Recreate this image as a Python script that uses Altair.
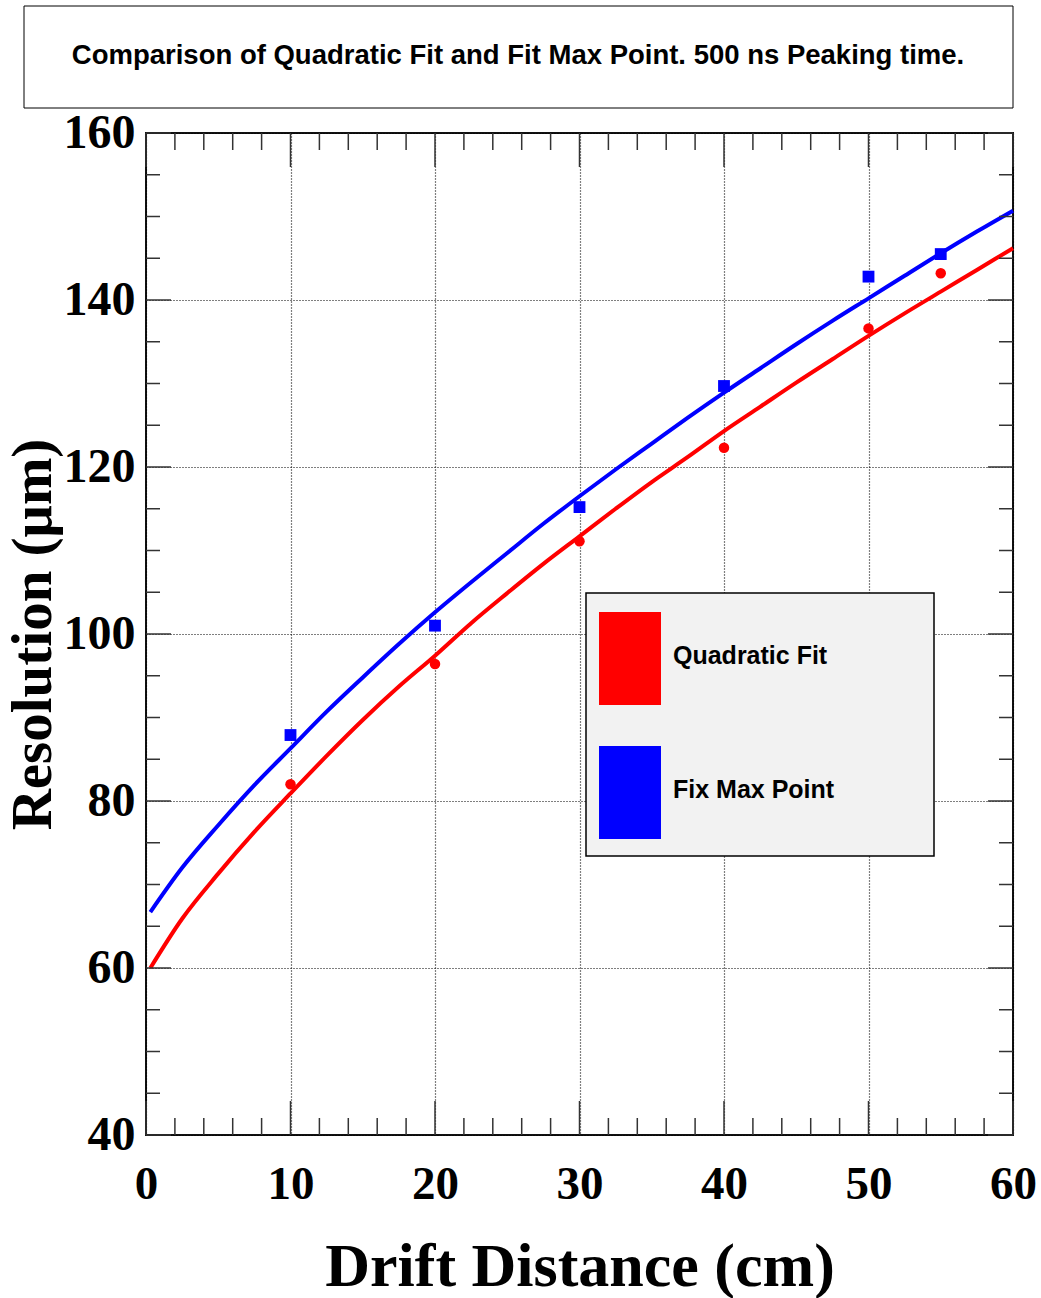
import altair as alt
import pandas as pd

# Measured resolution at each drift distance
drift_cm = [10, 20, 30, 40, 50, 55]
quad_res = [82.0, 96.4, 111.1, 122.3, 136.6, 143.2]
fixmax_res = [87.9, 101.0, 115.2, 129.7, 142.8, 145.5]

# Fitted resolution curves
fit_x = [0.3, 2.5, 5, 7.5, 10, 12.5, 15, 17.5, 20, 22.5, 25, 27.5, 30,
         32.5, 35, 37.5, 40, 42.5, 45, 47.5, 50, 52.5, 55, 57.5, 60]
quad_fit = [60.0, 65.9, 71.3, 76.3, 80.9, 85.4, 89.7, 93.7, 97.4, 101.3,
            104.9, 108.4, 111.7, 115.0, 118.2, 121.2, 124.3, 127.2, 130.1,
            132.9, 135.7, 138.4, 141.0, 143.6, 146.2]
fixmax_fit = [66.7, 72.0, 77.1, 81.9, 86.3, 90.7, 94.8, 98.8, 102.6, 106.2,
              109.7, 113.2, 116.5, 119.7, 122.8, 125.9, 128.9, 131.8, 134.7,
              137.5, 140.2, 142.9, 145.6, 148.2, 150.7]

series_names = ["Quadratic Fit", "Fix Max Point"]
series_colors = ["#ff0000", "#0000ff"]

title_text = "Comparison of Quadratic Fit and Fit Max Point. 500 ns Peaking time."

# Tick positions
x_major = [0, 10, 20, 30, 40, 50, 60]
x_minor = [2, 4, 6, 8, 12, 14, 16, 18, 22, 24, 26, 28, 32, 34, 36, 38,
           42, 44, 46, 48, 52, 54, 56, 58]
y_major = [40, 60, 80, 100, 120, 140, 160]
y_minor = [45, 50, 55, 65, 70, 75, 85, 90, 95, 105, 110, 115, 125, 130, 135,
           145, 150, 155]

W, H = 867, 1002

points = pd.DataFrame({
    "x": drift_cm * 2,
    "y": quad_res + fixmax_res,
    "series": [series_names[0]] * len(drift_cm) + [series_names[1]] * len(drift_cm),
})
fits = pd.DataFrame({
    "x": fit_x * 2,
    "y": quad_fit + fixmax_fit,
    "series": [series_names[0]] * len(fit_x) + [series_names[1]] * len(fit_x),
})

xscale = alt.Scale(domain=[0, 60], nice=False, zero=False)
yscale = alt.Scale(domain=[40, 160], nice=False, zero=False)
cscale = alt.Scale(domain=series_names, range=series_colors)

grid_style = dict(grid=True, gridDash=[1, 2], gridColor="#000", gridWidth=1.2,
                  gridOpacity=1, ticks=False, domain=False,
                  labelFont="Liberation Serif", labelFontWeight="bold",
                  labelColor="#000", labelOverlap=False,
                  titleFont="Liberation Serif", titleFontWeight="bold",
                  titleColor="#000", format="d")

x_axis = alt.Axis(values=x_major, title="Drift Distance (cm)", labelFontSize=47,
                  labelPadding=26, labelFlush=False, titleFontSize=62,
                  titlePadding=29, **grid_style)
y_axis = alt.Axis(values=y_major, title="Resolution (μm)", labelFontSize=48,
                  labelPadding=11, labelFlush=False, titleFontSize=57,
                  titlePadding=1, **grid_style)

X = alt.X("x:Q", scale=xscale, axis=x_axis)
Y = alt.Y("y:Q", scale=yscale, axis=y_axis)
Xs = alt.X("x:Q", scale=xscale)
Ys = alt.Y("y:Q", scale=yscale)

# Tall rectangular swatches; trailing spaces (kept by a zero-width space)
# widen the legend box
legend = alt.Legend(
    orient="none", legendX=440, legendY=460, title=None,
    symbolType="M-0.6667,-0.935H0.6667V1.065H-0.6667Z", symbolSize=8649,
    symbolOffset={"expr": "-18.5"}, symbolStrokeWidth=0, symbolOpacity=1,
    labelFont="Liberation Sans", labelFontWeight="bold", labelFontSize=25,
    labelColor="#000", labelOffset={"expr": "-3.5"}, labelLimit=600,
    labelExpr="datum.label + '            \u200b'",
    rowPadding=37, padding=16, fillColor="#f2f2f2", strokeColor="#000",
)

# One fitted curve per series
line_layers = [
    alt.Chart(fits).transform_filter(alt.datum.series == name)
    .mark_line(strokeWidth=4, interpolate="monotone", color=col)
    .encode(x=X, y=Y)
    for name, col in zip(series_names, series_colors)
]

circles = alt.Chart(points).transform_filter(
    alt.datum.series == series_names[0]
).mark_circle(size=110, opacity=1).encode(
    x=Xs, y=Ys,
    fill=alt.Fill("series:N", scale=cscale, legend=legend),
)

squares = alt.Chart(points).transform_filter(
    alt.datum.series == series_names[1]
).mark_square(size=140, opacity=1).encode(
    x=Xs, y=Ys,
    fill=alt.Fill("series:N", scale=cscale),
)

# Inward ticks on all four sides (ROOT style frame)
tick_layers = []
for vals, length in [(x_major, 34), (x_minor, 17)]:
    df = pd.DataFrame({"x": vals})
    tick_layers.append(alt.Chart(df).mark_rule(color="#333", strokeWidth=1.5).encode(
        x=Xs, y=alt.value(H), y2=alt.value(H - length)))
    tick_layers.append(alt.Chart(df).mark_rule(color="#333", strokeWidth=1.5).encode(
        x=Xs, y=alt.value(0), y2=alt.value(length)))
for vals, length in [(y_major, 25), (y_minor, 14)]:
    df = pd.DataFrame({"y": vals})
    tick_layers.append(alt.Chart(df).mark_rule(color="#333", strokeWidth=1.5).encode(
        y=Ys, x=alt.value(0), x2=alt.value(length)))
    tick_layers.append(alt.Chart(df).mark_rule(color="#333", strokeWidth=1.5).encode(
        y=Ys, x=alt.value(W), x2=alt.value(W - length)))

# Boxed title above the frame
title_df = pd.DataFrame({"t": [title_text]})
title_box = alt.Chart(title_df).mark_rect(fill="white", stroke="#000", strokeWidth=1).encode(
    x=alt.value(-122), x2=alt.value(W), y=alt.value(-127), y2=alt.value(-25))
title_label = alt.Chart(title_df).mark_text(
    font="Liberation Sans", fontWeight="bold", fontSize=27.5, color="#000",
    align="center", baseline="middle").encode(
    text="t:N", x=alt.value(372), y=alt.value(-77))

chart = alt.layer(
    *line_layers, circles, squares, *tick_layers, title_box, title_label
).properties(
    width=W, height=H, autosize="none", background="white",
    padding={"left": 146, "top": 133, "right": 28, "bottom": 163},
).configure_view(stroke="#111", strokeWidth=2).configure_legend(strokeWidth=1.5)

chart.save("out.html", embed_options={"renderer": "svg", "actions": False})
